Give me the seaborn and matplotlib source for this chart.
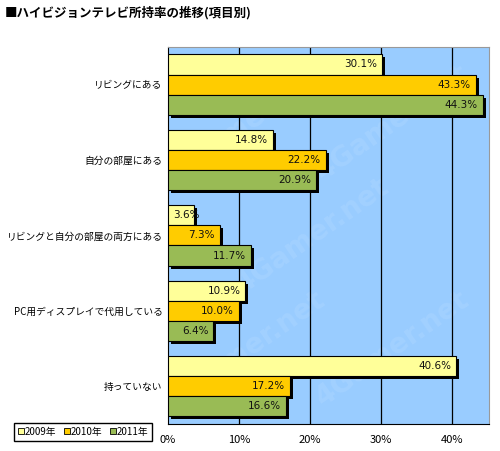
import pandas as pd
import matplotlib.pyplot as plt
import matplotlib.transforms as mtransforms
from matplotlib.patches import Rectangle, Patch
import seaborn as sns

categories = ["リビングにある", "自分の部屋にある", "リビングと自分の部屋の両方にある",
              "PC用ディスプレイで代用している", "持っていない"]
years = ["2009年", "2010年", "2011年"]
v2009 = [30.1, 14.8, 3.6, 10.9, 40.6]
v2010 = [43.3, 22.2, 7.3, 10.0, 17.2]
v2011 = [44.3, 20.9, 11.7, 6.4, 16.6]
colors = ["#FFFF99", "#FFCC00", "#99BB55"]

rows = []
for y, vals in zip(years, [v2009, v2010, v2011]):
    for c, v in zip(categories, vals):
        rows.append({"item": c, "year": y, "value": v})
df = pd.DataFrame(rows)

sns.set_style("white")
plt.rcParams["font.family"] = ["Noto Sans CJK JP", "DejaVu Sans"]
plt.rcParams["text.color"] = "black"
plt.rcParams["xtick.color"] = "black"
plt.rcParams["ytick.color"] = "black"

fig = plt.figure(figsize=(5, 4.51), dpi=100)
ax = fig.add_axes([0.336, 0.06, 0.642, 0.836])
ax.set_facecolor("#99CCFF")

sns.barplot(data=df, y="item", x="value", hue="year", orient="h",
            palette=colors, width=0.8, edgecolor="black", linewidth=0.8,
            saturation=1, ax=ax, legend=False, zorder=3)

# faint watermark
for wx, wy in [(0.25, 0.8), (0.7, 0.8), (0.45, 0.5), (0.25, 0.2), (0.7, 0.2)]:
    ax.text(wx, wy, "4Gamer.net", transform=ax.transAxes, rotation=35,
            fontsize=20, fontweight="bold", color="white", alpha=0.09,
            ha="center", va="center", zorder=1, family="DejaVu Sans")

# drop shadows and value labels
off = mtransforms.ScaledTranslation(3 / 100, -3 / 100, fig.dpi_scale_trans)
for p in list(ax.patches):
    w = p.get_width()
    sh = Rectangle((p.get_x(), p.get_y()), w, p.get_height(), facecolor="black",
                   edgecolor="none", transform=ax.transData + off, zorder=2)
    ax.add_patch(sh)
    yc = p.get_y() + p.get_height() / 2
    if w < 5:
        ax.text(0.7, yc, f"{w:.1f}%", ha="left", va="center", fontsize=7.5,
                color="#111111", zorder=4, family="DejaVu Sans")
    else:
        ax.text(w - 0.7, yc, f"{w:.1f}%", ha="right", va="center", fontsize=7.5,
                color="#111111", zorder=4, family="DejaVu Sans")

ax.set_xlim(0, 45.2)
ax.set_ylim(4.5, -0.5)
ax.set_xticks([0, 10, 20, 30, 40])
ax.set_xticklabels(["0%", "10%", "20%", "30%", "40%"], fontsize=8)
ax.tick_params(axis="x", length=0, pad=8)
ax.set_yticks(range(5))
ax.set_yticklabels(categories, fontsize=7)
ax.tick_params(axis="y", length=0, pad=4)
ax.set_yticks([0.5, 1.5, 2.5, 3.5], minor=True)
ax.tick_params(axis="y", which="minor", length=4, direction="in", color="black")
ax.set_xlabel("")
ax.set_ylabel("")
for x in [10, 20, 30, 40]:
    ax.axvline(x, color="black", lw=0.9, zorder=1.5)
ax.spines["left"].set_color("black")
ax.spines["bottom"].set_color("black")
ax.spines["top"].set_color("#999999")
ax.spines["right"].set_color("#999999")

fig.text(0.01, 0.972, "■ハイビジョンテレビ所持率の推移(項目別)", fontsize=9,
         fontweight="bold", va="center", ha="left")

handles = [Patch(facecolor=c, edgecolor="black", linewidth=0.6) for c in colors]
leg = fig.legend(handles, years, loc="lower left", bbox_to_anchor=(0.018, 0.012),
                 ncol=3, fontsize=7, handlelength=0.6, handleheight=0.6,
                 handletextpad=0.1, columnspacing=0.8, borderpad=0.4,
                 fancybox=False, framealpha=1)
leg.get_frame().set_edgecolor("black")

fig.savefig("out.png", dpi=100)
